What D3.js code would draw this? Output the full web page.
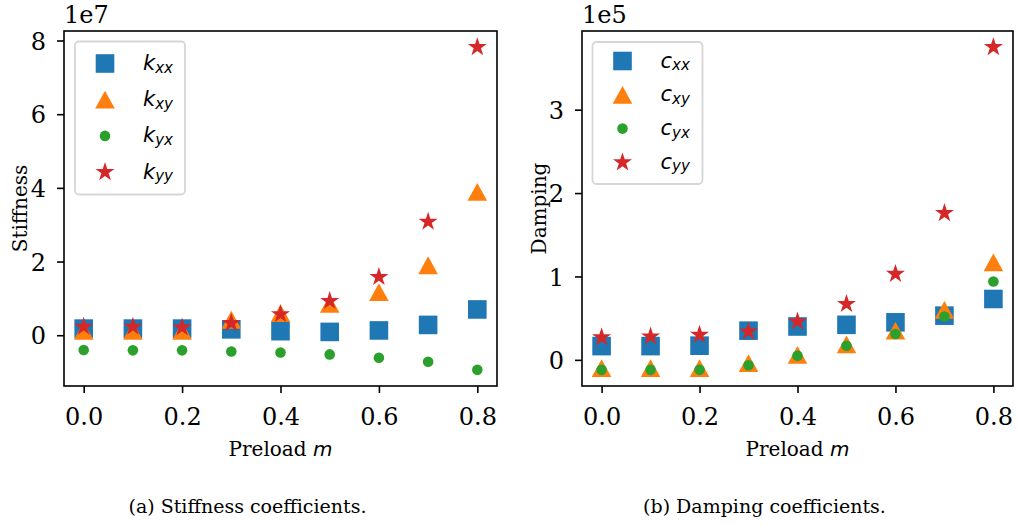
<!DOCTYPE html>
<html>
<head>
<meta charset="utf-8">
<script src="https://cdn.jsdelivr.net/npm/d3@7/dist/d3.min.js"></script>
<style>
  body { margin: 0; background: #fff; }
  svg { display: block; }
</style>
</head>
<body>
<svg id="chart" width="1019" height="526"></svg>
<script>
// ---------- data ----------
const preload = [0.0, 0.1, 0.2, 0.3, 0.4, 0.5, 0.6, 0.7, 0.8];

// stiffness coefficients (N/m)
const kxx = [0.18e7, 0.18e7, 0.18e7, 0.16e7, 0.11e7, 0.09e7, 0.13e7, 0.28e7, 0.70e7];
const kxy = [0.12e7, 0.12e7, 0.12e7, 0.42e7, 0.60e7, 0.85e7, 1.17e7, 1.90e7, 3.89e7];
const kyx = [-0.40e7, -0.41e7, -0.41e7, -0.44e7, -0.47e7, -0.52e7, -0.61e7, -0.72e7, -0.94e7];
const kyy = [0.23e7, 0.23e7, 0.21e7, 0.33e7, 0.57e7, 0.93e7, 1.58e7, 3.08e7, 7.82e7];

// damping coefficients (N s/m)
const cxx = [0.165e5, 0.165e5, 0.17e5, 0.35e5, 0.40e5, 0.42e5, 0.45e5, 0.53e5, 0.73e5];
const cxy = [-0.10e5, -0.10e5, -0.10e5, -0.04e5, 0.06e5, 0.185e5, 0.35e5, 0.60e5, 1.17e5];
const cyx = [-0.12e5, -0.12e5, -0.12e5, -0.064e5, 0.05e5, 0.17e5, 0.31e5, 0.52e5, 0.94e5];
const cyy = [0.27e5, 0.28e5, 0.30e5, 0.34e5, 0.46e5, 0.67e5, 1.03e5, 1.76e5, 3.75e5];

const xTicks = [0.0, 0.2, 0.4, 0.6, 0.8];
const xTickLabels = ["0.0", "0.2", "0.4", "0.6", "0.8"];
const stiffTicks = [0, 2, 4, 6, 8];
const dampTicks = [0, 1, 2, 3];

const stiffSeries = [
  { name: "k", sub: "xx", values: kxx, marker: "square", color: "#1f77b4" },
  { name: "k", sub: "xy", values: kxy, marker: "triangle", color: "#ff7f0e" },
  { name: "k", sub: "yx", values: kyx, marker: "circle", color: "#2ca02c" },
  { name: "k", sub: "yy", values: kyy, marker: "star", color: "#d62728" }
];
const dampSeries = [
  { name: "c", sub: "xx", values: cxx, marker: "square", color: "#1f77b4" },
  { name: "c", sub: "xy", values: cxy, marker: "triangle", color: "#ff7f0e" },
  { name: "c", sub: "yx", values: cyx, marker: "circle", color: "#2ca02c" },
  { name: "c", sub: "yy", values: cyy, marker: "star", color: "#d62728" }
];

// ---------- drawing ----------
const svg = d3.select("#chart");
const SERIF = "'DejaVu Serif', serif";
const SANS = "'DejaVu Sans', sans-serif";

function markerPath(type) {
  if (type === "square") {
    const h = 9.3;
    return `M${-h},${-h}H${h}V${h}H${-h}Z`;
  }
  if (type === "triangle") {
    const w = 9.8, hh = 8.9;
    return `M0,${-hh}L${w},${hh}L${-w},${hh}Z`;
  }
  if (type === "circle") {
    const r = 5.3;
    return `M${r},0A${r},${r} 0 1,1 ${-r},0A${r},${r} 0 1,1 ${r},0Z`;
  }
  // star, matplotlib style (inner ratio 0.381966)
  const R = 10, ri = R * 0.381966;
  let p = "";
  for (let i = 0; i < 10; i++) {
    const rr = i % 2 === 0 ? R : ri;
    const a = -Math.PI / 2 + i * Math.PI / 5;
    p += (i === 0 ? "M" : "L") + (rr * Math.cos(a)).toFixed(2) + "," + (rr * Math.sin(a)).toFixed(2);
  }
  return p + "Z";
}

function panel(opts) {
  const { left, right, top, bottom, series, yTicks, exp, ylabel, ylabelX, caption, captionX, legend } = opts;
  const g = svg.append("g");

  const x = d3.scaleLinear().domain([-0.04, 0.84]).range([left, right]);
  const all = series.flatMap(s => s.values);
  const lo = d3.min(all), hi = d3.max(all), m = (hi - lo) * 0.05;
  const y = d3.scaleLinear().domain([lo - m, hi + m]).range([bottom, top]);

  // markers
  series.forEach(s => {
    g.append("g").selectAll("path").data(s.values).join("path")
      .attr("d", markerPath(s.marker))
      .attr("transform", (v, i) => `translate(${x(preload[i])},${y(v)})`)
      .attr("fill", s.color);
  });

  // x axis
  const xa = g.append("g").attr("transform", `translate(0,${bottom})`)
    .call(d3.axisBottom(x).tickValues(xTicks).tickFormat((d, i) => xTickLabels[i]).tickSize(7).tickSizeOuter(0));
  xa.select(".domain").remove();
  xa.selectAll(".tick line").attr("stroke", "#000").attr("stroke-width", 1.6);
  xa.selectAll(".tick text").attr("y", 39).attr("dy", null)
    .attr("font-family", SERIF).attr("font-size", 24).attr("fill", "#000");

  // y axis
  const scale = Math.pow(10, exp);
  const ya = g.append("g").attr("transform", `translate(${left},0)`)
    .call(d3.axisLeft(y).tickValues(yTicks.map(t => t * scale)).tickFormat(d => d3.format("d")(Math.round(d / scale))).tickSize(7).tickSizeOuter(0));
  ya.select(".domain").remove();
  ya.selectAll(".tick line").attr("stroke", "#000").attr("stroke-width", 1.6);
  ya.selectAll(".tick text").attr("x", -18).attr("dy", 8.7)
    .attr("font-family", SERIF).attr("font-size", 24).attr("fill", "#000");

  // frame
  g.append("rect").attr("x", left).attr("y", top).attr("width", right - left).attr("height", bottom - top)
    .attr("fill", "none").attr("stroke", "#000").attr("stroke-width", 1.6);

  // offset text
  g.append("text").attr("x", left).attr("y", 23)
    .attr("font-family", SERIF).attr("font-size", 24).text("1e" + exp);

  // axis labels
  const xl = g.append("text").attr("x", (left + right) / 2).attr("y", 456)
    .attr("text-anchor", "middle").attr("font-family", SERIF).attr("font-size", 20);
  xl.append("tspan").text("Preload ");
  xl.append("tspan").attr("font-family", SANS).attr("font-style", "italic").text("m");

  g.append("text").attr("transform", `translate(${ylabelX},${(top + bottom) / 2}) rotate(-90)`)
    .attr("text-anchor", "middle").attr("font-family", SERIF).attr("font-size", 20).text(ylabel);

  // caption
  g.append("text").attr("x", captionX).attr("y", 513).attr("text-anchor", "middle")
    .attr("font-family", SERIF).attr("font-size", 19).text(caption);

  // legend
  const lg = g.append("g");
  lg.append("rect").attr("x", legend.x).attr("y", legend.y).attr("width", legend.w).attr("height", legend.h)
    .attr("rx", 4).attr("fill", "#fff").attr("fill-opacity", 0.8)
    .attr("stroke", "#d6d6d6").attr("stroke-width", 1.8);
  series.forEach((s, i) => {
    const cy = legend.row0 + i * legend.dy;
    lg.append("path").attr("d", markerPath(s.marker))
      .attr("transform", `translate(${legend.x + 30},${cy})`).attr("fill", s.color);
    const t = lg.append("text").attr("x", legend.x + 68).attr("y", cy + 6.5)
      .attr("font-family", SANS).attr("font-style", "italic").attr("font-size", 21);
    t.append("tspan").text(s.name);
    t.append("tspan").attr("font-size", 15).attr("dy", 2.5).text(s.sub);
  });
}

panel({
  left: 64, right: 497, top: 31, bottom: 386,
  series: stiffSeries, yTicks: stiffTicks, exp: 7,
  ylabel: "Stiffness", ylabelX: 27,
  caption: "(a) Stiffness coefficients.", captionX: 247.5,
  legend: { x: 75, y: 41.5, w: 110, h: 153, row0: 63.5, dy: 36.2 }
});

panel({
  left: 582, right: 1013, top: 31, bottom: 386,
  series: dampSeries, yTicks: dampTicks, exp: 5,
  ylabel: "Damping", ylabelX: 546,
  caption: "(b) Damping coefficients.", captionX: 764.5,
  legend: { x: 592.5, y: 42, w: 110, h: 142, row0: 61, dy: 33.8 }
});
</script>
</body>
</html>
